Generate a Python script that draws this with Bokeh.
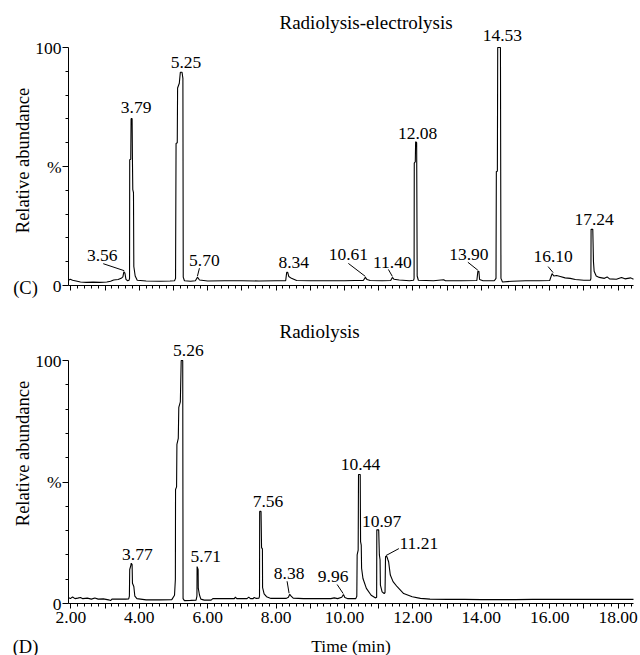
import math
from bokeh.plotting import figure
from bokeh.models import (Range1d, FixedTicker, ColumnDataSource, LabelSet, Label,
                          CustomJSTickFormatter)
from bokeh.core.properties import value
from bokeh.layouts import column
from bokeh.embed import file_html
from bokeh.resources import INLINE

FONT = "Liberation Serif"

# ---------------- data ----------------
TITLE_C = "Radiolysis-electrolysis"
TITLE_D = "Radiolysis"
Y_LABEL = "Relative abundance"
X_LABEL = "Time (min)"

TIME_C = [1.93, 1.98, 2.05, 2.15, 2.28, 2.45, 2.65, 2.85, 3.05, 3.16, 3.25, 3.38, 3.47, 3.52,
          3.55, 3.58, 3.61, 3.66, 3.70, 3.715, 3.72, 3.75, 3.76, 3.79, 3.80, 3.81, 3.83, 3.84,
          3.88, 3.94, 4.2, 4.6, 4.9, 5.03, 5.06, 5.075, 5.11, 5.12, 5.17, 5.20, 5.25, 5.275,
          5.285, 5.32, 5.5, 5.64, 5.70, 5.76, 6.0, 6.5, 7.0, 7.5, 8.0, 8.28, 8.31, 8.34, 8.37,
          8.45, 8.6, 9.0, 9.5, 10.0, 10.3, 10.55, 10.61, 10.66, 10.75, 11.1, 11.35, 11.40, 11.45,
          11.6, 11.9, 12.02, 12.035, 12.04, 12.07, 12.08, 12.11, 12.125, 12.16, 12.6, 12.9,
          12.95, 13.4, 13.87, 13.90, 13.93, 13.95, 14.05, 14.38, 14.43, 14.44, 14.47, 14.48,
          14.56, 14.575, 14.62, 14.9, 15.3, 15.7, 16.0, 16.07, 16.12, 16.2, 16.31, 16.45, 16.6,
          16.75, 17.0, 17.19, 17.205, 17.21, 17.26, 17.28, 17.30, 17.36, 17.45, 17.6, 17.68,
          17.75, 17.95, 18.1, 18.2, 18.37, 18.45]
ABUND_C = [2.2, 2.6, 2.2, 1.9, 1.5, 1.3, 1.4, 1.3, 1.5, 1.8, 2.3, 2.5, 3.0, 3.6,
           5.8, 5.2, 2.6, 2.0, 2.2, 3.0, 52.8, 53.0, 70.1, 70.1, 52.0, 40.3, 39.0, 8.0,
           4.0, 2.2, 1.9, 1.8, 1.9, 2.0, 3.0, 59.7, 60.0, 83.0, 85.0, 89.6, 89.6, 87.0,
           3.5, 2.0, 1.8, 2.0, 3.5, 2.3, 1.9, 2.0, 2.0, 1.9, 2.0, 2.0, 5.5, 5.5, 3.8,
           3.0, 2.1, 2.0, 2.0, 2.0, 2.1, 2.1, 3.4, 2.5, 2.1, 2.0, 2.1, 3.4, 2.6,
           2.3, 2.0, 2.2, 3.0, 51.4, 52.0, 60.4, 60.0, 4.0, 2.2, 2.0, 2.4,
           2.0, 2.0, 2.1, 6.0, 6.0, 2.5, 2.0, 2.0, 3.0, 47.9, 48.0, 100.0,
           100.0, 3.0, 1.5, 1.8, 2.0, 2.0, 2.1, 5.0, 4.0, 4.2, 3.8, 3.2, 3.0,
           2.5, 2.2, 2.2, 3.0, 23.6, 23.6, 10.0, 6.0, 4.0, 3.4, 3.0, 3.6,
           2.8, 2.6, 3.4, 2.8, 3.2, 2.6]
PEAKS_C = [3.56, 3.79, 5.25, 5.70, 8.34, 10.61, 11.40, 12.08, 13.90, 14.53, 16.10, 17.24]
PEAK_H_C = [5.8, 70.1, 89.6, 3.5, 5.5, 3.4, 3.4, 60.4, 6.0, 100.0, 5.0, 23.6]

TIME_D = [1.93, 1.98, 2.05, 2.12, 2.2, 2.28, 2.35, 2.48, 2.6, 2.7, 2.8, 2.95, 3.1, 3.16, 3.2,
          3.4, 3.6, 3.69, 3.71, 3.72, 3.75, 3.765, 3.79, 3.80, 3.84, 3.87, 3.93, 4.2, 4.6,
          4.95, 5.03, 5.055, 5.06, 5.09, 5.10, 5.14, 5.155, 5.2, 5.225, 5.27, 5.28, 5.32, 5.5,
          5.66, 5.685, 5.69, 5.72, 5.725, 5.76, 5.8, 5.9, 6.1, 6.15, 6.5, 6.78, 6.81, 6.85,
          7.15, 7.2, 7.25, 7.33, 7.36, 7.42, 7.5, 7.515, 7.52, 7.56, 7.575, 7.60, 7.605, 7.65,
          7.72, 7.85, 8.3, 8.36, 8.40, 8.44, 8.5, 8.8, 9.2, 9.6, 9.7, 9.8, 9.92, 9.97, 10.01,
          10.1, 10.33, 10.36, 10.37, 10.40, 10.41, 10.46, 10.47, 10.49, 10.50, 10.54, 10.64,
          10.78, 10.91, 10.94, 10.945, 11.0, 11.02, 11.04, 11.05, 11.1, 11.16, 11.185, 11.20,
          11.24, 11.27, 11.29, 11.34, 11.42, 11.54, 11.73, 11.98, 12.22, 12.5, 13.0, 13.5,
          14.0, 14.5, 15.0, 15.5, 16.0, 16.5, 17.0, 17.5, 18.0, 18.45]
ABUND_D = [2.5, 2.0, 2.7, 2.0, 2.2, 2.5, 2.0, 2.2, 1.8, 2.3, 1.8, 1.9, 1.5, 1.2, 1.8,
           1.8, 1.8, 1.9, 3.0, 14.0, 15.5, 16.6, 16.0, 8.3, 7.0, 3.0, 2.0, 1.5, 1.5,
           1.6, 3.4, 10.0, 46.9, 48.0, 65.5, 68.0, 80.7, 83.0, 100.0, 100.0, 2.0, 1.2, 1.3,
           1.4, 3.0, 15.2, 14.0, 6.2, 3.5, 1.8, 1.4, 1.4, 2.0, 2.0, 2.0, 2.6, 2.0,
           2.0, 2.6, 2.0, 2.0, 2.5, 2.1, 2.2, 3.0, 37.9, 37.9, 23.0, 22.5, 6.5, 4.0,
           2.8, 2.1, 2.1, 2.6, 3.8, 3.0, 2.2, 2.0, 2.0, 2.0, 2.3, 2.0, 2.6, 3.7, 2.5,
           2.0, 2.0, 3.0, 20.0, 22.0, 53.1, 53.1, 25.5, 24.0, 14.5, 10.3, 6.2,
           3.4, 2.3, 2.6, 30.3, 30.3, 20.0, 18.0, 7.6, 4.8, 4.1, 4.5, 19.3,
           19.3, 18.0, 17.2, 11.7, 9.0, 6.9, 4.1, 2.8, 2.1, 1.8, 1.7, 1.7,
           1.6, 1.6, 1.6, 1.7, 1.7, 1.7, 1.7, 1.7, 1.7, 1.7]
PEAKS_D = [3.77, 5.26, 5.71, 7.56, 8.38, 9.96, 10.44, 10.97, 11.21]
PEAK_H_D = [16.6, 100.0, 15.2, 37.9, 3.8, 3.7, 53.1, 30.3, 19.3]

X_START, X_END = 1.93, 18.45
X_MAJOR = list(range(2, 19))
X_MINOR = [round(2.0 + 0.2 * i, 1) for i in range(83)]
Y_MAJOR = [0, 50, 100]
Y_MINOR = [10, 20, 30, 40, 60, 70, 80, 90]

# ---------------- layout / style (pixels) ----------------
FIG_W = 640
PX_X = 34.2          # pixels per minute
AXIS_LEFT = 68       # y-axis line, px from the left edge of the figure
TITLE_LEFT = 211     # title start, px right of the y-axis
LETTER_DX = -43      # (C)/(D) centre, px from the y-axis
YLABEL_DX = -46      # rotated y title centre, px from the y-axis
# label centre offsets from the peak apex (px, right / up) and leader-line start (px)
LBL_C = [(-22, 16), (4, 11), (4, 10), (7, 17), (6, 10), (-17, 23), (0, 15), (2, 8),
         (-9, 17), (3, 12), (0, 17), (2, 10)]
LEAD_C = [(-21, 8), None, None, (2, 9), None, (-17, 14), (-4, 8), None,
          (-10, 9), None, (-5, 7), None]
LBL_D = [(6, 9), (6, 10), (8, 10), (7, 10), (0, 21), (-10, 18), (1, 10), (4, 8), (33, 13)]
LEAD_D = [None, None, None, None, (-2, 13), (-6, 10), None, None, (13, 8)]


def text_label(x, y, text, size, align="center", angle=0.0):
    return Label(x=x, y=y, text=text, text_align=align, text_baseline="middle",
                 text_font=FONT, text_font_style="normal", text_font_size=size,
                 text_color="black", angle=angle)


def make_panel(title, t, v, peaks, heights, lbl, lead, height, zero_from_top, px_pct,
               title_dy, ylabel_dy, xlabels, letter, letter_dy):
    x0r = X_START - AXIS_LEFT / PX_X
    x1r = x0r + FIG_W / PX_X
    y1r = zero_from_top / px_pct
    y0r = -(height - zero_from_top) / px_pct
    p = figure(width=FIG_W, height=height, x_range=Range1d(x0r, x1r),
               y_range=Range1d(y0r, y1r), output_backend="svg", toolbar_location=None,
               min_border=0)
    p.xgrid.visible = False
    p.ygrid.visible = False
    p.outline_line_color = None
    p.background_fill_color = "white"
    p.border_fill_color = "white"

    xa = p.xaxis[0]
    xa.fixed_location = 0
    xa.bounds = (X_START, X_END)
    xa.ticker = FixedTicker(ticks=X_MAJOR, minor_ticks=X_MINOR)
    if xlabels:
        xa.formatter = CustomJSTickFormatter(
            code="return (Math.round(tick) % 2 === 0) ? tick.toFixed(2) : '';")
        xa.axis_label = X_LABEL
    else:
        xa.formatter = CustomJSTickFormatter(code="return '';")
    xa.major_tick_out = 5
    xa.major_tick_in = 0
    xa.minor_tick_out = 3
    xa.minor_tick_in = 0
    xa.major_label_standoff = 3
    xa.axis_label_standoff = 10
    ya = p.yaxis[0]
    ya.fixed_location = X_START
    ya.bounds = (0, 100)
    ya.ticker = FixedTicker(ticks=Y_MAJOR, minor_ticks=Y_MINOR)
    ya.major_label_overrides = {50: "%"}
    ya.major_tick_out = 6
    ya.major_tick_in = 0
    ya.minor_tick_out = 3
    ya.minor_tick_in = 0
    ya.major_label_standoff = 1
    for ax in (xa, ya):
        ax.axis_line_color = "black"
        ax.major_tick_line_color = "black"
        ax.minor_tick_line_color = "black"
        ax.major_label_text_font = FONT
        ax.major_label_text_font_size = "17.5px"
        ax.major_label_text_font_style = "normal"
        ax.major_label_text_color = "black"
        ax.axis_label_text_font = FONT
        ax.axis_label_text_font_size = "17.5px"
        ax.axis_label_text_font_style = "normal"
        ax.axis_label_text_color = "black"

    p.line(x="t", y="v", source=ColumnDataSource(dict(t=t, v=v)),
           line_color="black", line_width=1.1)

    lx = [pk + dx / PX_X for pk, (dx, dy) in zip(peaks, lbl)]
    ly = [h + dy / px_pct for h, (dx, dy) in zip(heights, lbl)]
    src = ColumnDataSource(dict(x=lx, y=ly, text=[f"{pk:.2f}" for pk in peaks]))
    p.add_layout(LabelSet(x="x", y="y", text="text", source=src, text_align="center",
                          text_baseline="middle", text_font=value(FONT),
                          text_font_style="normal",
                          text_font_size="17.5px", text_color="black"))

    sx0, sy0, sx1, sy1 = [], [], [], []
    for pk, h, ld in zip(peaks, heights, lead):
        if ld is None:
            continue
        sx0.append(pk + ld[0] / PX_X)
        sy0.append(h + ld[1] / px_pct)
        sx1.append(pk)
        sy1.append(h + 1 / px_pct)
    p.segment(x0=sx0, y0=sy0, x1=sx1, y1=sy1, line_color="black", line_width=1)

    p.add_layout(text_label(X_START + TITLE_LEFT / PX_X, title_dy / px_pct, title,
                            "19px", align="left"))
    p.add_layout(text_label(X_START + LETTER_DX / PX_X, letter_dy / px_pct, letter,
                            "18.5px"))
    p.add_layout(text_label(X_START + YLABEL_DX / PX_X, ylabel_dy / px_pct, Y_LABEL,
                            "18.5px", angle=math.pi / 2))
    return p


p1 = make_panel(TITLE_C, TIME_C, ABUND_C, PEAKS_C, PEAK_H_C, LBL_C, LEAD_C,
                height=318, zero_from_top=285, px_pct=2.38, title_dy=263, ylabel_dy=125,
                xlabels=False, letter="(C)", letter_dy=-2)
p2 = make_panel(TITLE_D, TIME_D, ABUND_D, PEAKS_D, PEAK_H_D, LBL_D, LEAD_D,
                height=337, zero_from_top=285, px_pct=2.43, title_dy=272, ylabel_dy=150,
                xlabels=True, letter="(D)", letter_dy=-43)

layout = column(p1, p2)
open("out.html", "w").write(file_html(layout, INLINE))
